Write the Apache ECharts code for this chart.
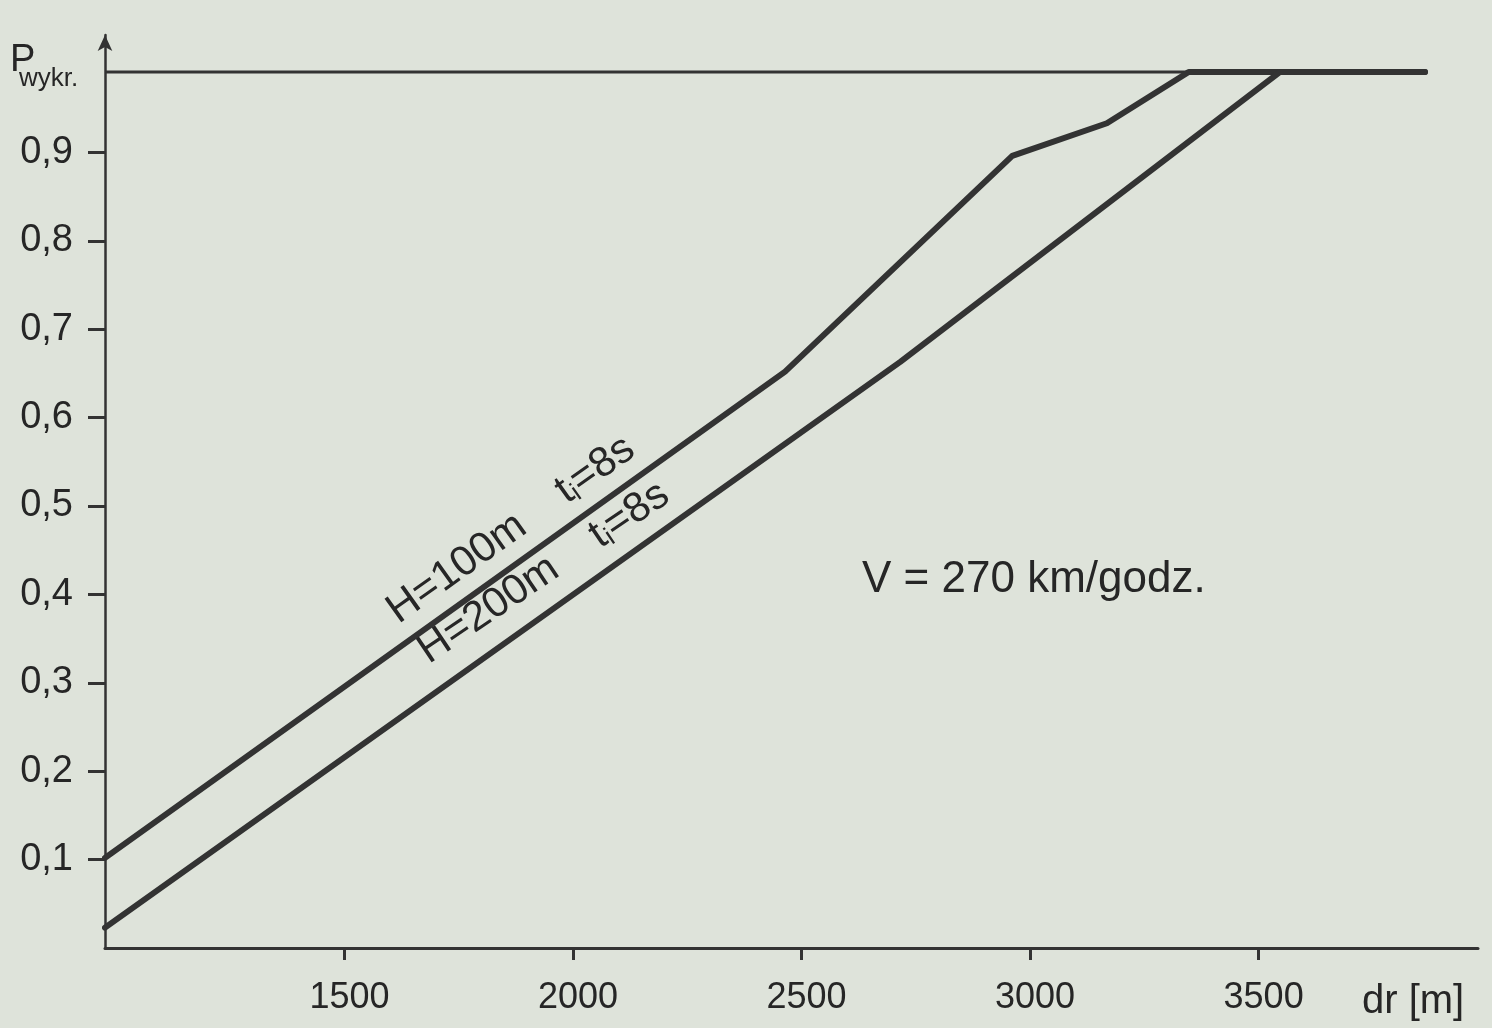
<!DOCTYPE html>
<html>
<head>
<meta charset="utf-8">
<script src="https://cdn.jsdelivr.net/npm/echarts@6/dist/echarts.min.js"></script>
<style>
html,body{margin:0;padding:0;background:#dee3da;}
#c1{width:1492px;height:1028px;}
</style>
</head>
<body>
<div id="c1"></div>
<script>
// odleglosc [m] i prawdopodobienstwo wykrycia
var xTicks = [1500, 2000, 2500, 3000, 3500];
var yTicks = [0.1, 0.2, 0.3, 0.4, 0.5, 0.6, 0.7, 0.8, 0.9];
var dist100 = [976, 2464, 2961, 3168, 3347, 3864];
var prob100 = [0.102, 0.652, 0.896, 0.933, 0.991, 0.991];
var dist200 = [976, 2716, 3547, 3864];
var prob200 = [0.023, 0.663, 0.991, 0.991];
var distTop = [976, 3347];
var probTop = [0.991, 0.991];

var hand = '"Liberation Sans Narrow", "Liberation Sans", sans-serif';
var ink = '#333333';

function pairs(xs, ys) {
	var out = [];
	for (var i = 0; i < xs.length; i++) {
		out.push([xs[i], ys[i]]);
	}
	return out;
}

var myChart = echarts.init(document.getElementById('c1'));
var option = {
	backgroundColor: '#dee3da',
	animation: false,
	grid: { left: 105, right: 14, top: 35, bottom: 80, outerBoundsMode: 'none' },
	xAxis: {
		type: 'value',
		min: 976,
		max: 3980,
		splitLine: { show: false },
		axisLine: { show: true, lineStyle: { color: ink, width: 3 } },
		axisTick: { show: true, customValues: xTicks, length: 12, lineStyle: { color: ink, width: 3 } },
		axisLabel: {
			customValues: xTicks,
			margin: 32,
			color: '#262626',
			fontFamily: hand,
			fontSize: 36,
			padding: [0, 0, 0, 10],
			formatter: function (v) { return String(v); }
		}
	},
	yAxis: {
		type: 'value',
		min: 0,
		max: 1.0328,
		splitLine: { show: false },
		axisLine: { show: true, symbol: ['none', 'arrow'], symbolSize: [11, 16], lineStyle: { color: ink, width: 2.5 } },
		axisTick: { show: true, customValues: yTicks, length: 17, lineStyle: { color: ink, width: 3 } },
		axisLabel: {
			customValues: yTicks,
			margin: 32,
			color: '#262626',
			fontFamily: hand,
			fontSize: 38,
			formatter: function (v) { return v.toFixed(1).replace('.', ','); }
		}
	},
	series: [
		{
			name: 'granica',
			type: 'line',
			showSymbol: false,
			data: pairs(distTop, probTop),
			lineStyle: { color: ink, width: 3 },
			z: 1
		},
		{
			name: 'H=100m',
			type: 'line',
			showSymbol: false,
			data: pairs(dist100, prob100),
			lineStyle: { color: ink, width: 6, cap: 'round', join: 'round' },
			z: 2
		},
		{
			name: 'H=200m',
			type: 'line',
			showSymbol: false,
			data: pairs(dist200, prob200),
			lineStyle: { color: ink, width: 6, cap: 'round', join: 'round' },
			z: 2
		}
	],
	graphic: [
		{
			type: 'text', x: 10, y: 80,
			style: { text: 'P', font: '38px ' + hand, fill: '#262626', textAlign: 'left', textVerticalAlign: 'bottom' }
		},
		{
			type: 'text', x: 19, y: 92,
			style: { text: 'wykr.', font: '26px ' + hand, fill: '#262626', textAlign: 'left', textVerticalAlign: 'bottom' }
		},
		{
			type: 'text', x: 1362, y: 1002,
			style: { text: 'dr [m]', font: '40px ' + hand, fill: '#262626', textAlign: 'left', textVerticalAlign: 'middle' }
		},
		{
			type: 'text', x: 862, y: 580,
			style: { text: 'V = 270 km/godz.', font: '44px ' + hand, fill: '#262626', textAlign: 'left', textVerticalAlign: 'middle' }
		},
		{
			type: 'text', x: 404, y: 632, rotation: 35.5 * Math.PI / 180,
			style: {
				text: '{n|H=100m    t}{s|i}{n|=8s}',
				textAlign: 'left', textVerticalAlign: 'bottom', fill: '#262626',
				rich: {
					n: { fontFamily: hand, fontSize: 42, fill: '#262626' },
					s: { fontFamily: hand, fontSize: 26, fill: '#262626', verticalAlign: 'bottom' }
				}
			}
		},
		{
			type: 'text', x: 434, y: 672, rotation: 34 * Math.PI / 180,
			style: {
				text: '{n|H=200m    t}{s|i}{n|=8s}',
				textAlign: 'left', textVerticalAlign: 'bottom', fill: '#262626',
				rich: {
					n: { fontFamily: hand, fontSize: 42, fill: '#262626' },
					s: { fontFamily: hand, fontSize: 26, fill: '#262626', verticalAlign: 'bottom' }
				}
			}
		}
	]
};
myChart.setOption(option);
</script>
</body>
</html>
